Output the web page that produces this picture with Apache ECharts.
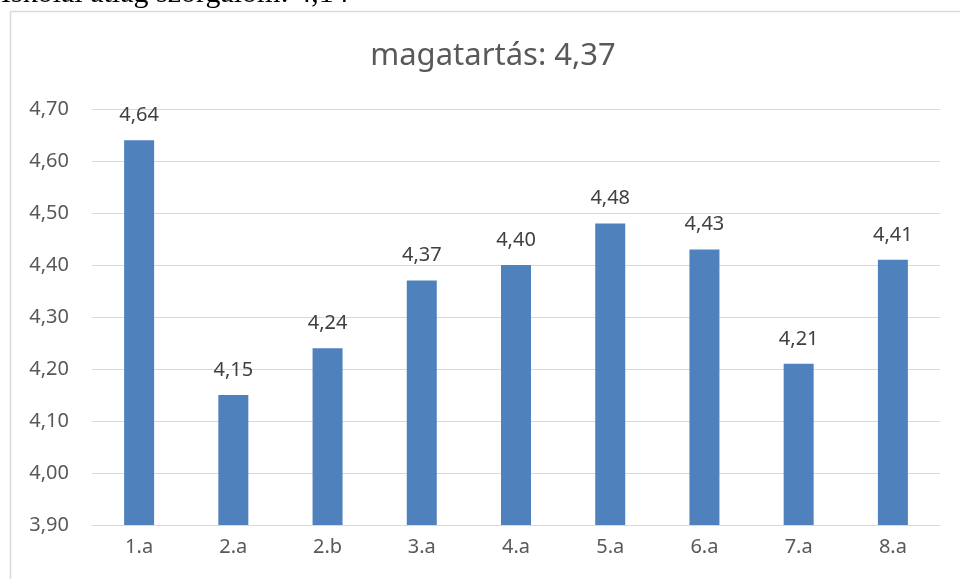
<!DOCTYPE html>
<html>
<head>
<meta charset="utf-8">
<script src="https://cdn.jsdelivr.net/npm/echarts@6/dist/echarts.min.js"></script>
<style>
  html, body { margin: 0; padding: 0; background: #fff; }
  #chart { width: 960px; height: 579px; }
</style>
</head>
<body>
<div id="chart"></div>
<script>
const classes = ['1.a', '2.a', '2.b', '3.a', '4.a', '5.a', '6.a', '7.a', '8.a']
const behaviour = [4.64, 4.15, 4.24, 4.37, 4.40, 4.48, 4.43, 4.21, 4.41]
const headerText = 'Iskolai átlag szorgalom: 4,14'
const titleText = 'magatartás: 4,37'

const fmt = v => Number(v).toFixed(2).replace('.', ',')

const chart = echarts.init(document.getElementById('chart'))
chart.setOption({
  animation: false,
  color: ['#4f81bd'],
  title: {
    text: titleText,
    left: 488,
    top: 36,
    textAlign: 'center',
    textStyle: {
      fontFamily: 'Noto Sans',
      fontWeight: 'normal',
      fontSize: 31,
      color: '#595959'
    }
  },
  graphic: [{
    type: 'rect',
    shape: { x: 10.5, y: 11.5, width: 1000, height: 700 },
    style: { fill: 'none', stroke: '#d9d9d9', lineWidth: 1.5 },
    silent: true
  }, {
    type: 'text',
    left: 1,
    top: -21,
    style: {
      text: headerText,
      font: '30px "Liberation Serif"',
      fill: '#000'
    }
  }],
  grid: {
    left: 92,
    right: 20,
    top: 109,
    bottom: 54
  },
  xAxis: {
    type: 'category',
    data: classes,
    axisTick: { show: false },
    axisLine: { lineStyle: { color: '#d9d9d9', width: 1 } },
    axisLabel: {
      color: '#595959',
      fontFamily: 'Noto Sans',
      fontSize: 20,
      margin: 12
    }
  },
  yAxis: {
    type: 'value',
    min: 3.9,
    max: 4.7,
    interval: 0.1,
    axisLine: { show: false },
    axisTick: { show: false },
    splitLine: { lineStyle: { color: '#d9d9d9', width: 1 } },
    axisLabel: {
      color: '#595959',
      fontFamily: 'Noto Sans',
      fontSize: 20,
      margin: 23,
      formatter: fmt
    }
  },
  series: [{
    type: 'bar',
    data: behaviour,
    barWidth: 30,
    label: {
      show: true,
      position: 'top',
      distance: 15,
      color: '#404040',
      fontFamily: 'Noto Sans',
      fontSize: 20,
      formatter: p => fmt(p.value)
    }
  }]
})
</script>
</body>
</html>
